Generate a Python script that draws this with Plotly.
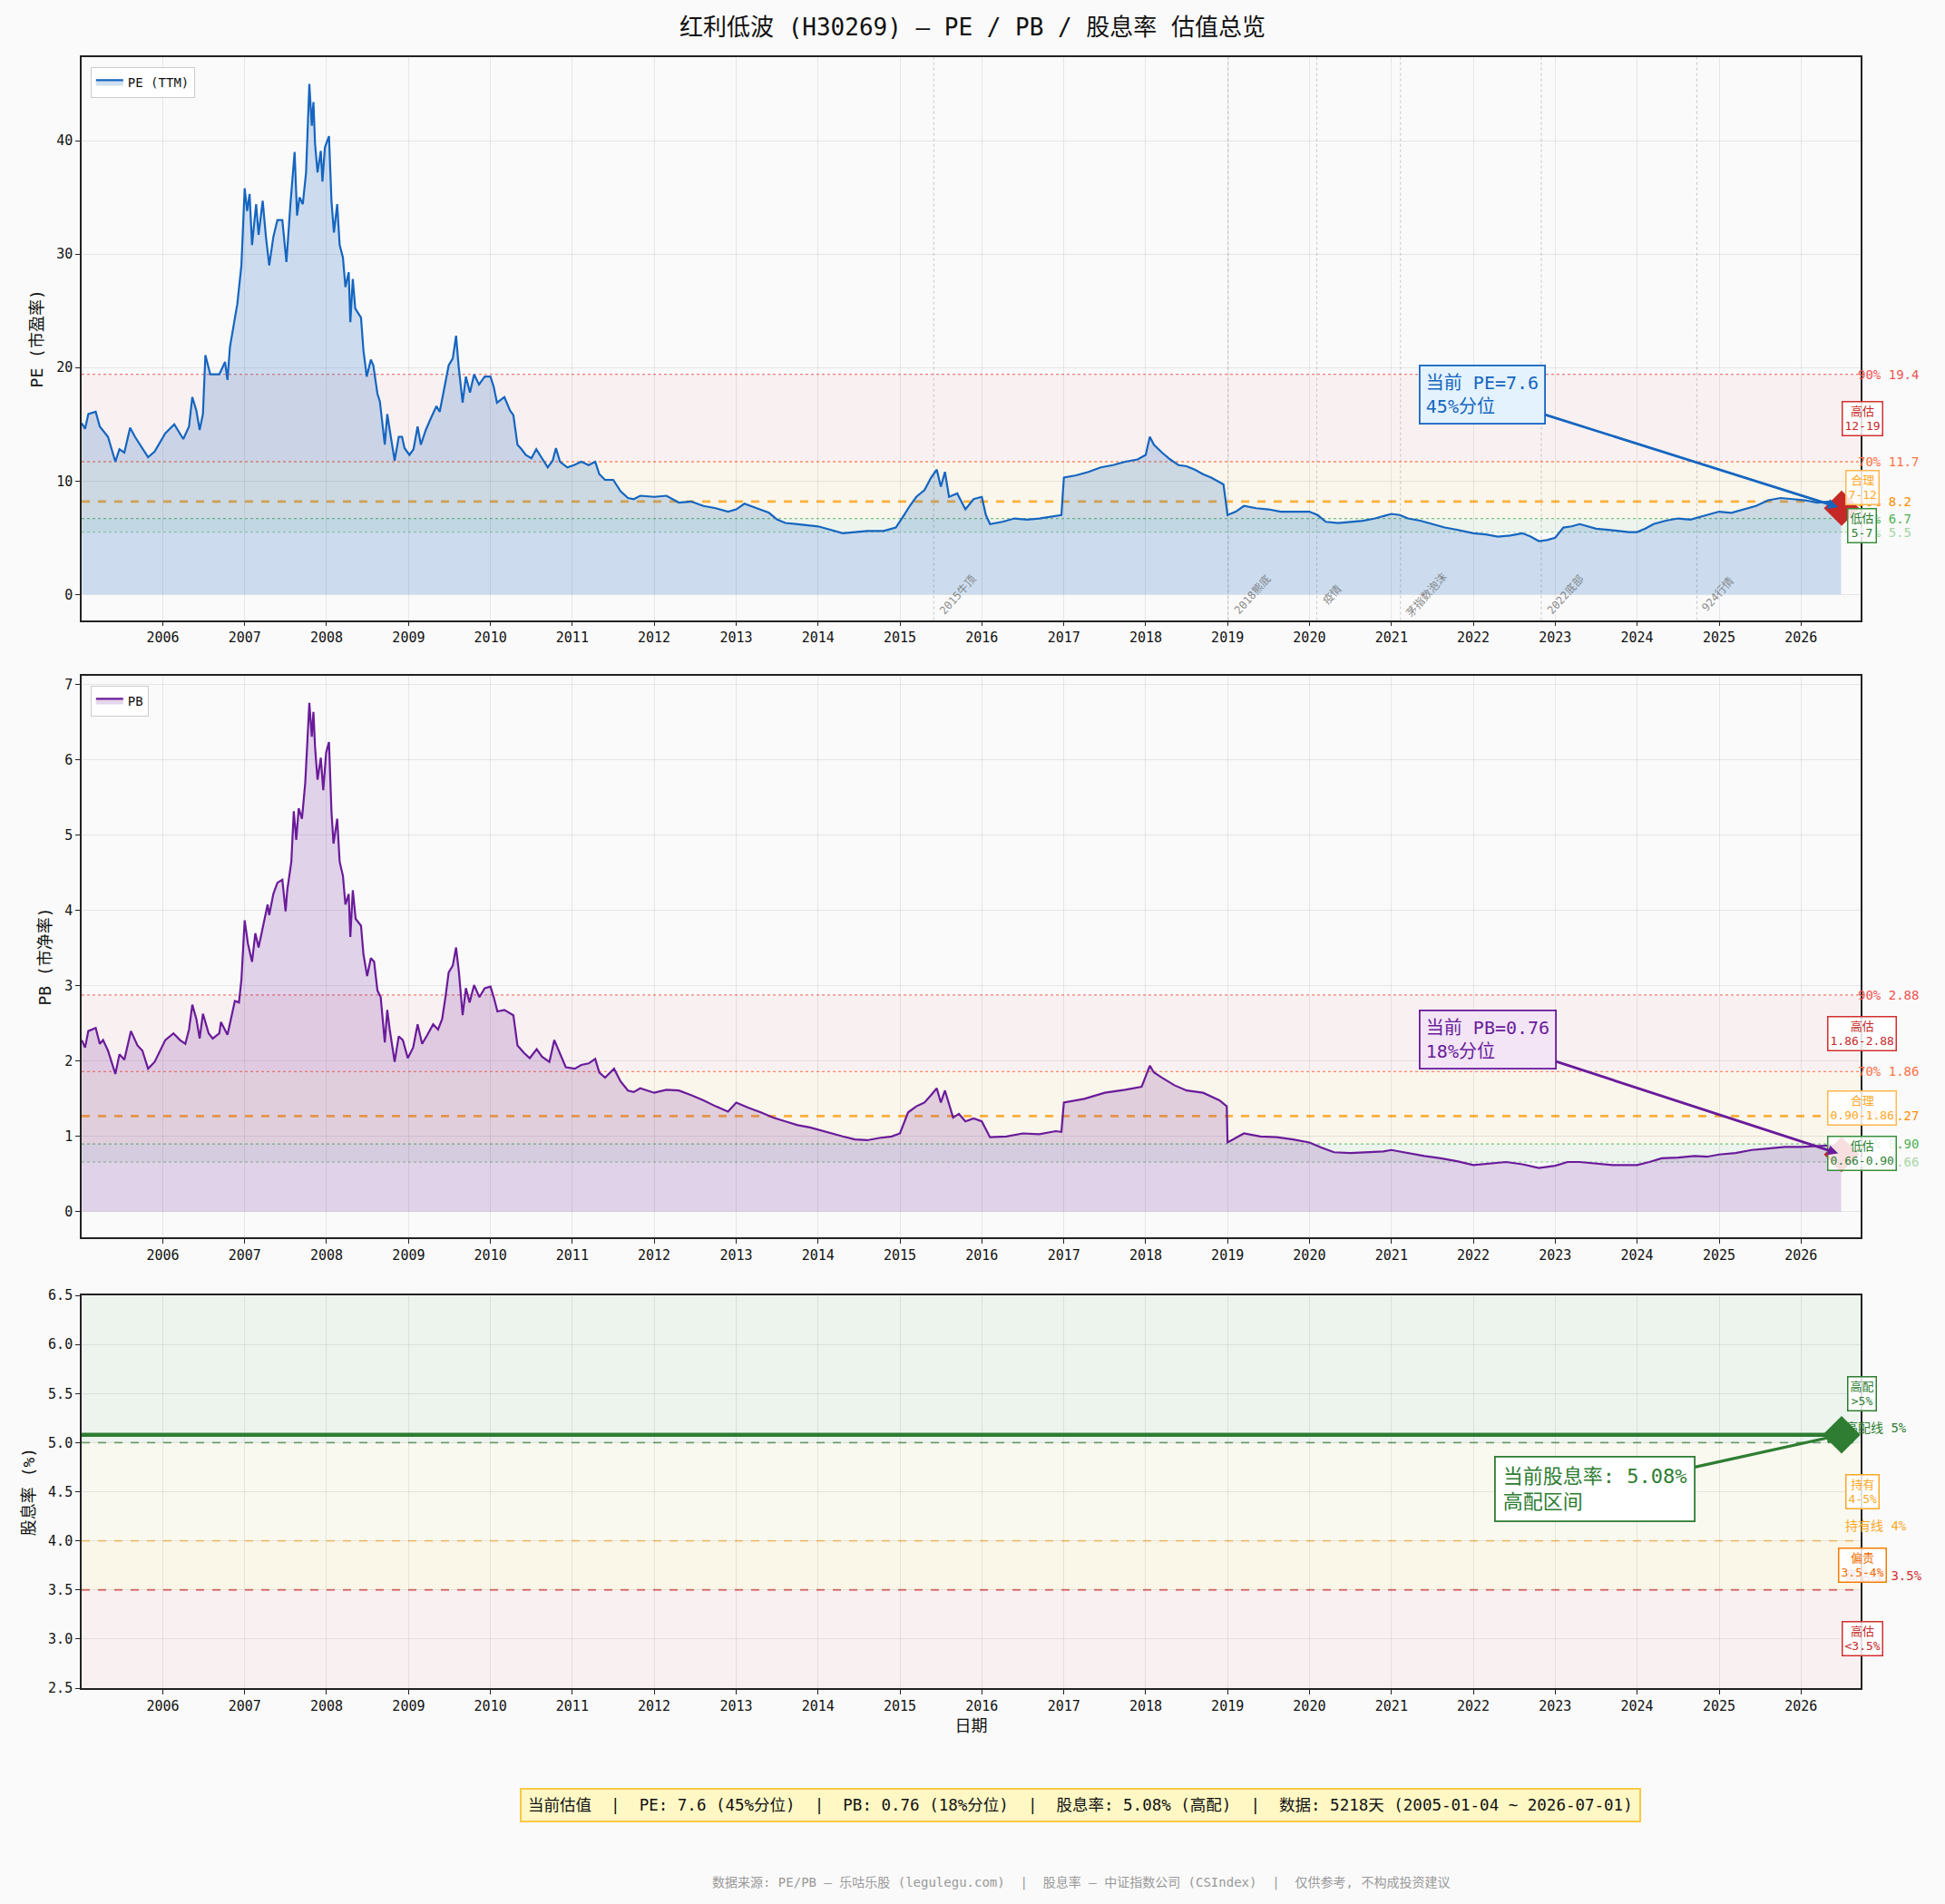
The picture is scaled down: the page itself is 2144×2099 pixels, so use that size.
import pandas as pd
import plotly.graph_objects as go

FONT = "DejaVu Sans Mono, Noto Sans CJK SC, sans-serif"

# ---------------- data ----------------
pe_t = [2005.01, 2005.05, 2005.09, 2005.18, 2005.23, 2005.27, 2005.33, 2005.42, 2005.47, 2005.53, 2005.60, 2005.66,
        2005.73, 2005.82, 2005.90, 2006.03, 2006.14, 2006.25, 2006.32, 2006.36, 2006.41, 2006.45, 2006.49, 2006.52,
        2006.58, 2006.69, 2006.76, 2006.79, 2006.82, 2006.91, 2006.96, 2007.00, 2007.03, 2007.06, 2007.09, 2007.14,
        2007.17, 2007.22, 2007.26, 2007.30, 2007.35, 2007.40, 2007.46, 2007.51, 2007.56, 2007.61, 2007.64, 2007.67,
        2007.71, 2007.75, 2007.79, 2007.82, 2007.84, 2007.86, 2007.89, 2007.93, 2007.95, 2007.98, 2008.03, 2008.06,
        2008.09, 2008.13, 2008.16, 2008.20, 2008.23, 2008.27, 2008.29, 2008.32, 2008.35, 2008.42, 2008.45, 2008.49,
        2008.54, 2008.57, 2008.62, 2008.65, 2008.71, 2008.74, 2008.77, 2008.83, 2008.88, 2008.92, 2008.95, 2009.01,
        2009.06, 2009.11, 2009.15, 2009.21, 2009.27, 2009.34, 2009.38, 2009.45, 2009.49, 2009.54, 2009.58, 2009.61,
        2009.66, 2009.70, 2009.75, 2009.80, 2009.86, 2009.93, 2010.00, 2010.04, 2010.08, 2010.17, 2010.24, 2010.28,
        2010.33, 2010.38, 2010.43, 2010.50, 2010.56, 2010.63, 2010.70, 2010.76, 2010.80, 2010.85, 2010.94, 2011.02,
        2011.11, 2011.20, 2011.28, 2011.33, 2011.40, 2011.50, 2011.59, 2011.68, 2011.75, 2011.83,
        2012.00, 2012.15, 2012.30, 2012.45, 2012.60, 2012.75, 2012.90, 2013.00, 2013.10, 2013.25, 2013.40, 2013.50,
        2013.60, 2013.75, 2013.90, 2014.00, 2014.15, 2014.30, 2014.45, 2014.60, 2014.80, 2014.95, 2015.05, 2015.12,
        2015.20, 2015.30, 2015.38, 2015.45, 2015.50, 2015.55, 2015.60, 2015.70, 2015.80, 2015.90, 2016.00, 2016.05,
        2016.10, 2016.25, 2016.40, 2016.55, 2016.70, 2016.85, 2016.97, 2017.00, 2017.15, 2017.30, 2017.45, 2017.60,
        2017.75, 2017.90, 2018.00, 2018.05, 2018.10, 2018.20, 2018.30, 2018.40, 2018.50, 2018.60, 2018.70, 2018.80,
        2018.95, 2019.00, 2019.10, 2019.20, 2019.35, 2019.50, 2019.65, 2019.80, 2020.00, 2020.10, 2020.20, 2020.35,
        2020.50, 2020.65, 2020.80, 2021.00, 2021.10, 2021.20, 2021.35, 2021.50, 2021.65, 2021.80, 2022.00, 2022.15,
        2022.30, 2022.45, 2022.60, 2022.70, 2022.80, 2022.90, 2023.00, 2023.10, 2023.20, 2023.30, 2023.40, 2023.50,
        2023.65, 2023.80, 2023.90, 2024.00, 2024.10, 2024.20, 2024.35, 2024.50, 2024.65, 2024.80, 2025.00, 2025.15,
        2025.30, 2025.45, 2025.60, 2025.75, 2025.90, 2026.05, 2026.20, 2026.35, 2026.49]
pe_v = [15.1, 14.6, 15.9, 16.1, 14.8, 14.4, 13.9, 11.7, 12.8, 12.5, 14.7, 13.9,
        13.1, 12.1, 12.6, 14.2, 15.0, 13.7, 14.8, 17.4, 16.2, 14.5, 15.9, 21.1,
        19.4, 19.4, 20.5, 18.9, 21.8, 25.6, 29.0, 35.8, 33.8, 35.3, 30.8, 34.4,
        31.7, 34.7, 31.5, 29.0, 31.5, 33.0, 33.0, 29.3, 34.5, 39.0, 33.4, 35.0,
        34.4, 37.2, 45.0, 41.3, 43.4, 39.7, 37.2, 39.1, 36.4, 39.4, 40.4, 34.7,
        31.9, 34.4, 30.8, 29.7, 27.1, 28.4, 24.0, 27.8, 25.2, 24.4, 21.5, 19.2,
        20.7, 20.2, 17.7, 17.0, 13.2, 15.9, 14.5, 11.8, 13.9, 13.9, 12.9, 12.3,
        12.8, 14.8, 13.2, 14.5, 15.5, 16.6, 16.1, 18.9, 20.2, 20.8, 22.8, 20.2,
        16.9, 19.2, 17.8, 19.4, 18.5, 19.2, 19.2, 18.3, 16.9, 17.4, 16.2, 15.8,
        13.2, 12.8, 12.3, 12.0, 12.8, 12.0, 11.2, 11.8, 12.9, 11.7, 11.2, 11.4,
        11.7, 11.4, 11.7, 10.6, 10.1, 10.1, 9.1, 8.5, 8.4, 8.7,
        8.6, 8.7, 8.1, 8.2, 7.8, 7.6, 7.3, 7.5, 8.0, 7.6, 7.2, 6.6,
        6.3, 6.2, 6.1, 6.0, 5.7, 5.4, 5.5, 5.6, 5.6, 5.9, 7.0, 7.8,
        8.6, 9.2, 10.3, 11.0, 9.5, 10.8, 8.6, 8.9, 7.5, 8.4, 8.6, 7.0,
        6.2, 6.4, 6.7, 6.6, 6.7, 6.9, 7.0, 10.3, 10.5, 10.8, 11.2, 11.4,
        11.7, 11.9, 12.3, 13.9, 13.2, 12.5, 11.9, 11.4, 11.3, 11.0, 10.6, 10.3,
        9.7, 7.0, 7.3, 7.8, 7.6, 7.5, 7.3, 7.3, 7.3, 7.0, 6.4, 6.3,
        6.4, 6.5, 6.7, 7.1, 7.0, 6.7, 6.5, 6.2, 5.9, 5.7, 5.4, 5.3,
        5.1, 5.2, 5.4, 5.1, 4.7, 4.8, 5.0, 5.9, 6.0, 6.2, 6.0, 5.8,
        5.7, 5.6, 5.5, 5.5, 5.8, 6.2, 6.5, 6.7, 6.6, 6.9, 7.3, 7.2,
        7.5, 7.8, 8.3, 8.5, 8.4, 8.3, 8.1, 8.2, 7.9]

pb_t = [2005.01, 2005.05, 2005.09, 2005.18, 2005.23, 2005.27, 2005.33, 2005.42, 2005.47, 2005.53, 2005.61, 2005.69,
        2005.75, 2005.82, 2005.90, 2006.03, 2006.13, 2006.21, 2006.275, 2006.32, 2006.36, 2006.41, 2006.45, 2006.49,
        2006.56, 2006.61, 2006.69, 2006.71, 2006.79, 2006.845, 2006.88, 2006.93, 2006.96, 2007.00, 2007.04, 2007.09,
        2007.13, 2007.17, 2007.24, 2007.28, 2007.30, 2007.35, 2007.40, 2007.46, 2007.50, 2007.52, 2007.57, 2007.60,
        2007.63, 2007.66, 2007.70, 2007.74, 2007.79, 2007.82, 2007.84, 2007.86, 2007.89, 2007.93, 2007.96, 2007.995,
        2008.03, 2008.06, 2008.085, 2008.13, 2008.16, 2008.20, 2008.23, 2008.27, 2008.29, 2008.32, 2008.355, 2008.42,
        2008.45, 2008.495, 2008.54, 2008.58, 2008.62, 2008.66, 2008.71, 2008.74, 2008.77, 2008.83, 2008.88, 2008.93,
        2008.99, 2009.055, 2009.11, 2009.165, 2009.23, 2009.30, 2009.36, 2009.41, 2009.45, 2009.49, 2009.54, 2009.58,
        2009.615, 2009.66, 2009.70, 2009.745, 2009.80, 2009.865, 2009.93, 2010.00, 2010.04, 2010.085, 2010.17, 2010.28,
        2010.33, 2010.41, 2010.48, 2010.565, 2010.63, 2010.72, 2010.78, 2010.85, 2010.92, 2011.03, 2011.11, 2011.20,
        2011.28, 2011.33, 2011.40, 2011.51, 2011.59, 2011.68, 2011.75, 2011.83,
        2012.00, 2012.15, 2012.30, 2012.45, 2012.60, 2012.75, 2012.90, 2013.00, 2013.15, 2013.30, 2013.45, 2013.60,
        2013.75, 2013.90, 2014.00, 2014.15, 2014.30, 2014.45, 2014.60, 2014.75, 2014.90, 2015.00, 2015.10, 2015.20,
        2015.30, 2015.38, 2015.45, 2015.50, 2015.55, 2015.65, 2015.72, 2015.80, 2015.90, 2016.00, 2016.10, 2016.30,
        2016.50, 2016.70, 2016.90, 2016.97, 2017.00, 2017.25, 2017.50, 2017.75, 2017.95, 2018.05, 2018.10, 2018.20,
        2018.35, 2018.50, 2018.70, 2018.90, 2018.99, 2019.00, 2019.20, 2019.40, 2019.60, 2019.80, 2020.00, 2020.15,
        2020.30, 2020.50, 2020.70, 2020.90, 2021.00, 2021.20, 2021.40, 2021.60, 2021.80, 2022.00, 2022.20, 2022.40,
        2022.60, 2022.80, 2023.00, 2023.15, 2023.30, 2023.50, 2023.70, 2023.90, 2024.00, 2024.15, 2024.30, 2024.50,
        2024.70, 2024.85, 2025.00, 2025.20, 2025.40, 2025.60, 2025.80, 2026.00, 2026.20, 2026.35, 2026.49]
pb_v = [2.28, 2.18, 2.40, 2.44, 2.23, 2.28, 2.14, 1.83, 2.09, 2.02, 2.40, 2.21,
        2.14, 1.90, 1.99, 2.28, 2.37, 2.28, 2.23, 2.42, 2.75, 2.56, 2.30, 2.63,
        2.37, 2.30, 2.37, 2.52, 2.35, 2.61, 2.80, 2.78, 3.08, 3.87, 3.56, 3.32,
        3.70, 3.51, 3.89, 4.08, 3.94, 4.22, 4.37, 4.41, 3.99, 4.27, 4.65, 5.32,
        4.94, 5.36, 5.22, 5.70, 6.76, 6.31, 6.64, 6.17, 5.74, 6.03, 5.60, 6.10,
        6.24, 5.32, 4.89, 5.22, 4.65, 4.46, 4.08, 4.22, 3.65, 4.27, 3.89, 3.80,
        3.42, 3.13, 3.37, 3.32, 2.94, 2.85, 2.25, 2.68, 2.42, 1.99, 2.33, 2.28,
        2.04, 2.18, 2.49, 2.23, 2.35, 2.49, 2.42, 2.56, 2.85, 3.18, 3.27, 3.51,
        3.18, 2.61, 2.97, 2.78, 3.01, 2.85, 2.97, 2.99, 2.85, 2.66, 2.68, 2.61,
        2.21, 2.11, 2.04, 2.16, 2.06, 1.99, 2.28, 2.09, 1.92, 1.90, 1.95, 1.97,
        2.03, 1.85, 1.78, 1.90, 1.73, 1.61, 1.59, 1.64,
        1.58, 1.62, 1.61, 1.55, 1.48, 1.40, 1.33, 1.45, 1.38, 1.32, 1.25, 1.20,
        1.15, 1.12, 1.09, 1.04, 1.00, 0.96, 0.95, 0.98, 1.00, 1.04, 1.32, 1.40,
        1.45, 1.55, 1.64, 1.45, 1.61, 1.25, 1.30, 1.20, 1.24, 1.20, 0.99, 1.00,
        1.04, 1.03, 1.07, 1.06, 1.45, 1.50, 1.58, 1.62, 1.66, 1.94, 1.85, 1.78,
        1.68, 1.61, 1.58, 1.48, 1.40, 0.92, 1.04, 1.00, 0.99, 0.96, 0.92, 0.85,
        0.79, 0.78, 0.79, 0.80, 0.82, 0.78, 0.74, 0.71, 0.67, 0.62, 0.64, 0.66,
        0.63, 0.58, 0.61, 0.66, 0.66, 0.64, 0.62, 0.62, 0.62, 0.66, 0.71, 0.72,
        0.74, 0.73, 0.76, 0.78, 0.82, 0.84, 0.86, 0.86, 0.87, 0.88, 0.86]

div_dates = ["2005-01-04", "2026-07-01"]
div_values = [5.08, 5.08]

cur_date = "2026-07-01"
cur_pe, cur_pe_pct = 7.6, 45
cur_pb, cur_pb_pct = 0.76, 18
cur_div = 5.08

pe_pct_names = ["90%", "70%", "50%", "30%", "10%"]
pe_pct_vals = [19.4, 11.7, 8.2, 6.7, 5.5]
pb_pct_vals = [2.88, 1.86, 1.27, 0.90, 0.66]

events = ["2015牛顶", "2018熊底", "疫情", "茅指数泡沫", "2022底部", "924行情"]
event_dates = ["2015-06-01", "2019-01-04", "2020-02-03", "2021-02-10", "2022-10-31", "2024-09-24"]

div_levels = [5.0, 4.0, 3.5]
div_level_names = ["高配线 5%", "持有线 4%", "高估线 3.5%"]


def to_date(t):
    y = int(t)
    start = pd.Timestamp(year=y, month=1, day=1)
    end = pd.Timestamp(year=y + 1, month=1, day=1)
    return start + (end - start) * (t - y)


pe_x = [to_date(t) for t in pe_t]
pb_x = [to_date(t) for t in pb_t]

# ---------------- figure ----------------
W, H = 2144, 2099
ML, MR, MT, MB = 90, 93, 63, 238
PH = H - MT - MB


def dom(top_px, bot_px):
    return [(H - MB - bot_px) / PH, (H - MB - top_px) / PH]


d1 = dom(63, 683.6)
d2 = dom(745, 1364)
d3 = dom(1428, 1861)

fig = go.Figure()

# PE
fig.add_trace(go.Scatter(x=pe_x, y=pe_v, mode="lines", name="PE (TTM)",
                         line=dict(color="#1565c0", width=2.2), fill="tozeroy",
                         fillcolor="rgba(21,101,192,0.20)", xaxis="x", yaxis="y", legend="legend"))
fig.add_trace(go.Scatter(x=[cur_date], y=[cur_pe], mode="markers", showlegend=False,
                         marker=dict(symbol="diamond", size=30, color="#c62828"), xaxis="x", yaxis="y"))
# PB
fig.add_trace(go.Scatter(x=pb_x, y=pb_v, mode="lines", name="PB",
                         line=dict(color="#6a1b9a", width=2.2), fill="tozeroy",
                         fillcolor="rgba(106,27,154,0.18)", xaxis="x2", yaxis="y2", legend="legend2"))
fig.add_trace(go.Scatter(x=[cur_date], y=[cur_pb], mode="markers", showlegend=False,
                         marker=dict(symbol="diamond", size=30, color="#c62828"), xaxis="x2", yaxis="y2"))
# Dividend
fig.add_trace(go.Scatter(x=div_dates, y=div_values, mode="lines", showlegend=False,
                         line=dict(color="#2e7d32", width=4.5), xaxis="x3", yaxis="y3"))
fig.add_trace(go.Scatter(x=[cur_date], y=[cur_div], mode="markers", showlegend=False,
                         marker=dict(symbol="diamond", size=32, color="#2e7d32"), xaxis="x3", yaxis="y3"))

shapes = []
annotations = []


def band(xr, yr, y0, y1, color):
    shapes.append(dict(type="rect", xref=f"{xr} domain", yref=yr, x0=0, x1=1, y0=y0, y1=y1,
                       fillcolor=color, line=dict(width=0), layer="below"))


def hline(xr, yr, y, color, dash, width):
    shapes.append(dict(type="line", xref=f"{xr} domain", yref=yr, x0=0, x1=1, y0=y, y1=y,
                       line=dict(color=color, dash=dash, width=width), layer="below"))


def rlabel(yr, y, text, color, x=0.9975, size=14):
    annotations.append(dict(xref="paper", yref=yr, x=x, y=y, text=text, showarrow=False,
                            xanchor="left", yanchor="middle",
                            font=dict(family=FONT, size=size, color=color)))


def zbox(yr, y, text, color, tcolor):
    annotations.append(dict(xref="paper", yref=yr, x=1.0008, y=y, text=text, showarrow=False,
                            xanchor="center", yanchor="middle", align="center",
                            bgcolor="rgba(255,255,255,0.85)", bordercolor=color, borderwidth=1.5,
                            borderpad=2, font=dict(family=FONT, size=13, color=tcolor)))


pct_line_cols = ["rgba(239,83,80,0.75)", "rgba(255,112,67,0.8)", "rgba(255,167,38,0.9)",
                 "rgba(102,187,106,0.85)", "rgba(165,214,167,0.95)"]
pct_text_cols = ["#ef5350", "#ff7043", "#fb8c00", "#4caf50", "#a5d6a7"]
pct_dash = ["dot", "dot", "dash", "dot", "dot"]
pct_w = [1.3, 1.3, 2.8, 1.3, 1.3]

# PE bands & lines
band("x", "y", pe_pct_vals[1], pe_pct_vals[0], "rgba(239,83,80,0.05)")
band("x", "y", pe_pct_vals[3], pe_pct_vals[1], "rgba(255,193,7,0.06)")
band("x", "y", pe_pct_vals[4], pe_pct_vals[3], "rgba(76,175,80,0.07)")
for v, c, d, w in zip(pe_pct_vals, pct_line_cols, pct_dash, pct_w):
    hline("x", "y", v, c, d, w)
for n, v, c in zip(pe_pct_names, pe_pct_vals, pct_text_cols):
    rlabel("y", v, f"{n} {v:.1f}", c)

# PB bands & lines
band("x2", "y2", pb_pct_vals[1], pb_pct_vals[0], "rgba(239,83,80,0.05)")
band("x2", "y2", pb_pct_vals[3], pb_pct_vals[1], "rgba(255,193,7,0.06)")
band("x2", "y2", pb_pct_vals[4], pb_pct_vals[3], "rgba(76,175,80,0.07)")
for v, c, d, w in zip(pb_pct_vals, pct_line_cols, pct_dash, pct_w):
    hline("x2", "y2", v, c, d, w)
for n, v, c in zip(pe_pct_names, pb_pct_vals, pct_text_cols):
    rlabel("y2", v, f"{n} {v:.2f}", c)

# event lines (PE panel)
for ev, dt in zip(events, event_dates):
    shapes.append(dict(type="line", xref="x", yref="y domain", x0=dt, x1=dt, y0=0, y1=1,
                       line=dict(color="rgba(150,150,150,0.5)", dash="dot", width=1), layer="below"))
    annotations.append(dict(xref="x", yref="y", x=dt, y=0, text=ev, showarrow=False, textangle=-48,
                            xanchor="left", yanchor="middle",
                            font=dict(family=FONT, size=12, color="rgba(110,110,110,0.8)")))

# zone boxes
zbox("y", 15.5, "高估<br>12-19", "#d32f2f", "#c62828")
zbox("y", 9.4, "合理<br>7-12", "#ffb74d", "#ffa726")
zbox("y", 6.1, "低估<br>5-7", "#388e3c", "#2e7d32")
zbox("y2", 2.37, "高估<br>1.86-2.88", "#d32f2f", "#c62828")
zbox("y2", 1.38, "合理<br>0.90-1.86", "#ffb74d", "#ffa726")
zbox("y2", 0.78, "低估<br>0.66-0.90", "#388e3c", "#2e7d32")

# Dividend bands & lines
band("x3", "y3", 5.0, 6.5, "rgba(76,175,80,0.07)")
band("x3", "y3", 4.0, 5.0, "rgba(255,235,59,0.05)")
band("x3", "y3", 3.5, 4.0, "rgba(255,193,7,0.07)")
band("x3", "y3", 2.5, 3.5, "rgba(239,83,80,0.05)")
div_cols = ["rgba(46,125,50,0.65)", "rgba(249,168,37,0.6)", "rgba(211,47,47,0.65)"]
div_tcols = ["#2e7d32", "#f9a825", "#d32f2f"]
for v, c in zip(div_levels, div_cols):
    hline("x3", "y3", v, c, "dash", 1.8)
for v, n, c in zip(div_levels, div_level_names, div_tcols):
    rlabel("y3", v + 0.15, n, c, x=0.9905, size=14)
zbox("y3", 5.5, "高配<br>&gt;5%", "#2e7d32", "#2e7d32")
zbox("y3", 4.5, "持有<br>4-5%", "#f9a825", "#f9a825")
zbox("y3", 3.75, "偏贵<br>3.5-4%", "#f57c00", "#ef6c00")
zbox("y3", 3.0, "高估<br>&lt;3.5%", "#d32f2f", "#c62828")

# current-value callouts
annotations.append(dict(xref="x", yref="y", x=cur_date, y=cur_pe, ax=-396, ay=-125,
                        text=f"当前 PE={cur_pe}<br>{cur_pe_pct}%分位", showarrow=True, arrowhead=2,
                        arrowsize=0.8, arrowwidth=2.8, arrowcolor="#1565c0", align="left",
                        bgcolor="#e3f2fd", bordercolor="#1565c0", borderwidth=1.8, borderpad=6,
                        font=dict(family=FONT, size=20, color="#1565c0"), standoff=4))
annotations.append(dict(xref="x2", yref="y2", x=cur_date, y=cur_pb, ax=-390, ay=-127,
                        text=f"当前 PB={cur_pb}<br>{cur_pb_pct}%分位", showarrow=True, arrowhead=2,
                        arrowsize=0.8, arrowwidth=2.8, arrowcolor="#6a1b9a", align="left",
                        bgcolor="#f3e5f5", bordercolor="#6a1b9a", borderwidth=1.8, borderpad=6,
                        font=dict(family=FONT, size=20, color="#6a1b9a"), standoff=4))
annotations.append(dict(xref="x3", yref="y3", x=cur_date, y=cur_div, ax=-272, ay=60,
                        text=f"当前股息率: {cur_div:.2f}%<br>高配区间", showarrow=True, arrowhead=2,
                        arrowsize=0.8, arrowwidth=3.2, arrowcolor="#2e7d32", align="left",
                        bgcolor="white", bordercolor="#2e7d32", borderwidth=1.8, borderpad=8,
                        font=dict(family=FONT, size=22, color="#2e7d32"), standoff=4))

# info box & footer
info = (f"当前估值  |  PE: {cur_pe} ({cur_pe_pct}%分位)  |  PB: {cur_pb} ({cur_pb_pct}%分位)  |  "
        f"股息率: {cur_div:.2f}% (高配)  |  数据: 5218天 (2005-01-04 ~ 2026-07-01)")
annotations.append(dict(xref="paper", yref="paper", x=(1191 - ML) / (W - ML - MR), y=(H - MB - 1990) / PH,
                        text=info, showarrow=False, xanchor="center", yanchor="middle",
                        bgcolor="#fff8c4", bordercolor="#f9c846", borderwidth=2, borderpad=7,
                        font=dict(family=FONT, size=17.5, color="#111")))
annotations.append(dict(xref="paper", yref="paper", x=(1191 - ML) / (W - ML - MR), y=(H - MB - 2075) / PH,
                        text="数据来源: PE/PB — 乐咕乐股 (legulegu.com)  |  股息率 — 中证指数公司 (CSIndex)  |  仅供参考, 不构成投资建议",
                        showarrow=False, xanchor="center", yanchor="middle",
                        font=dict(family=FONT, size=14, color="#999")))

xcommon = dict(type="date", range=["2005-01-04", "2026-09-24"], dtick="M12", tick0="2006-01-01",
               tickformat="%Y", showgrid=True, gridcolor="rgba(0,0,0,0.08)", gridwidth=1,
               showline=True, linecolor="#222", linewidth=1.6, mirror=True, ticks="outside",
               ticklen=5, tickcolor="#222", tickfont=dict(family=FONT, size=15, color="#111"),
               zeroline=False)
ycommon = dict(showgrid=True, gridcolor="rgba(0,0,0,0.08)", gridwidth=1, showline=True,
               linecolor="#222", linewidth=1.6, mirror=True, ticks="outside", ticklen=5,
               tickcolor="#222", tickfont=dict(family=FONT, size=15, color="#111"), zeroline=False)

fig.update_layout(
    width=W, height=H,
    margin=dict(l=ML, r=MR, t=MT, b=MB),
    paper_bgcolor="#fafafa", plot_bgcolor="#fafafa",
    font=dict(family=FONT, color="#111"),
    title=dict(text="红利低波 (H30269) — PE / PB / 股息率 估值总览", x=0.5, xanchor="center",
               y=1 - 30 / H, yanchor="middle", font=dict(family=FONT, size=26, color="#111")),
    xaxis=dict(**xcommon, domain=[0, 1], anchor="y"),
    xaxis2=dict(**xcommon, domain=[0, 1], anchor="y2"),
    xaxis3=dict(**xcommon, domain=[0, 1], anchor="y3",
                title=dict(text="日期", font=dict(family=FONT, size=18, color="#111"), standoff=8)),
    yaxis=dict(**ycommon, domain=d1, anchor="x", range=[-2.26, 47.36], dtick=10, tick0=0,
               title=dict(text="PE (市盈率)", font=dict(family=FONT, size=18, color="#111"), standoff=10)),
    yaxis2=dict(**ycommon, domain=d2, anchor="x2", range=[-0.34, 7.12], dtick=1, tick0=0,
                title=dict(text="PB (市净率)", font=dict(family=FONT, size=18, color="#111"), standoff=10)),
    yaxis3=dict(**ycommon, domain=d3, anchor="x3", range=[2.5, 6.5], dtick=0.5, tick0=2.5,
                tickformat=".1f",
                title=dict(text="股息率 (%)", font=dict(family=FONT, size=18, color="#111"), standoff=10)),
    legend=dict(x=0.005, y=d1[1] - 0.006, xanchor="left", yanchor="top",
                bgcolor="rgba(255,255,255,0.85)", bordercolor="#cccccc", borderwidth=1,
                font=dict(family=FONT, size=14, color="#111")),
    legend2=dict(x=0.005, y=d2[1] - 0.006, xanchor="left", yanchor="top",
                 bgcolor="rgba(255,255,255,0.85)", bordercolor="#cccccc", borderwidth=1,
                 font=dict(family=FONT, size=14, color="#111")),
    shapes=shapes,
    annotations=annotations,
)

fig.write_html("out.html")
